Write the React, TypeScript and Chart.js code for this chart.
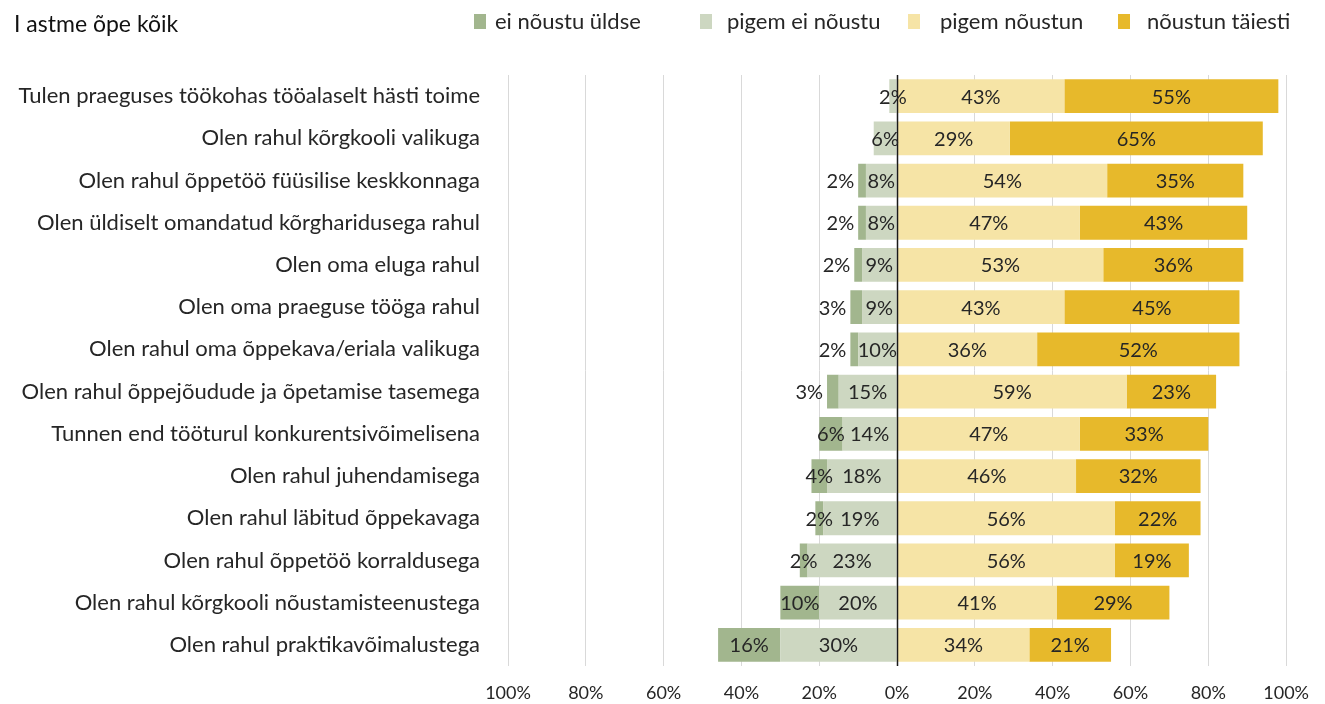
import React, { useEffect, useRef } from "react";
import { Chart, registerables } from "chart.js";

Chart.register(...registerables);

const title = "I astme õpe kõik";
const categories = [
  "Tulen praeguses töökohas tööalaselt hästi toime",
  "Olen rahul kõrgkooli valikuga",
  "Olen rahul õppetöö füüsilise keskkonnaga",
  "Olen üldiselt omandatud kõrgharidusega rahul",
  "Olen oma eluga rahul",
  "Olen oma praeguse tööga rahul",
  "Olen rahul oma õppekava/eriala valikuga",
  "Olen rahul õppejõudude ja õpetamise tasemega",
  "Tunnen end tööturul konkurentsivõimelisena",
  "Olen rahul juhendamisega",
  "Olen rahul läbitud õppekavaga",
  "Olen rahul õppetöö korraldusega",
  "Olen rahul kõrgkooli nõustamisteenustega",
  "Olen rahul praktikavõimalustega",
];
const seriesNames = ["ei nõustu üldse", "pigem ei nõustu", "pigem nõustun", "nõustun täiesti"];
const eiNoustuYldse = [0, 0, 2, 2, 2, 3, 2, 3, 6, 4, 2, 2, 10, 16];
const pigemEiNoustu = [2, 6, 8, 8, 9, 9, 10, 15, 14, 18, 19, 23, 20, 30];
const pigemNoustun = [43, 29, 54, 47, 53, 43, 36, 59, 47, 46, 56, 56, 41, 34];
const noustunTaiesti = [55, 65, 35, 43, 36, 45, 52, 23, 33, 32, 22, 19, 29, 21];
const xTicks = [-100, -80, -60, -40, -20, 0, 20, 40, 60, 80, 100];

const colors = ["#a2b68e", "#cdd7c1", "#f6e4a6", "#e7b92b"];
const FONT = "Lato, 'Open Sans', sans-serif";
const TEXT = "#262626";

const overlay = {
  id: "overlay",
  afterDatasetsDraw(chart: any) {
    const ctx = chart.ctx;
    const xs = chart.scales.x;
    const area = chart.chartArea;
    ctx.save();
    // zero line
    const x0 = Math.round(xs.getPixelForValue(0)) + 0.5;
    ctx.strokeStyle = "#1a1a1a";
    ctx.lineWidth = 1.5;
    ctx.beginPath();
    ctx.moveTo(x0, area.top);
    ctx.lineTo(x0, area.bottom);
    ctx.stroke();
    // labels
    ctx.font = `20px ${FONT}`;
    ctx.fillStyle = TEXT;
    ctx.textBaseline = "middle";
    const n = chart.data.labels.length;
    for (let i = 0; i < n; i++) {
      const metas = [0, 1, 2, 3].map((d) => chart.getDatasetMeta(d).data[i]);
      const vals = [0, 1, 2, 3].map((d) => Math.abs(chart.data.datasets[d].data[i]));
      const centers = metas.map((el: any) => (el.x + el.base) / 2);
      const lgText = vals[1] + "%";
      const lgW = ctx.measureText(lgText).width;
      const lgLeft = centers[1] - lgW / 2;
      for (let d = 0; d < 4; d++) {
        if (!vals[d]) continue;
        const el: any = metas[d];
        const txt = vals[d] + "%";
        const w = ctx.measureText(txt).width;
        let cx = centers[d];
        if (d === 0 && vals[1]) {
          const right = cx + w / 2;
          const segW = Math.abs(el.x - el.base);
          if (right > lgLeft - 6 && segW < w * 0.8) {
            const left = Math.min(el.x, el.base);
            cx = left - 4 - w / 2;
          }
        }
        ctx.textAlign = "center";
        ctx.fillText(txt, cx, el.y + 1);
      }
    }
    // title
    ctx.font = `23px ${FONT}`;
    ctx.textAlign = "left";
    ctx.fillStyle = "#111";
    ctx.fillText(title, 14, 25);
    // legend
    const boxStarts = [474, 700, 908, 1118];
    const textStarts = [495, 727, 940, 1147];
    ctx.font = `22px ${FONT}`;
    for (let d = 0; d < 4; d++) {
      ctx.fillStyle = colors[d];
      ctx.fillRect(boxStarts[d], 14, 12, 15);
      ctx.fillStyle = TEXT;
      ctx.fillText(seriesNames[d], textStarts[d], 22);
    }
    ctx.restore();
  },
};

export default function App() {
  const ref = useRef<HTMLCanvasElement>(null);
  useEffect(() => {
    document.body.style.margin = "0";
    const ds = (label: string, data: number[], color: string, order: number) => ({
      label,
      data,
      backgroundColor: color,
      borderWidth: 0,
      barPercentage: 0.8,
      categoryPercentage: 1,
      order,
    });
    const chart = new Chart(ref.current!, {
      type: "bar",
      data: {
        labels: categories,
        datasets: [
          ds(seriesNames[0], eiNoustuYldse.map((v) => -v), colors[0], 2),
          ds(seriesNames[1], pigemEiNoustu.map((v) => -v), colors[1], 1),
          ds(seriesNames[2], pigemNoustun, colors[2], 3),
          ds(seriesNames[3], noustunTaiesti, colors[3], 4),
        ],
      },
      options: {
        indexAxis: "y",
        responsive: false,
        animation: false,
        layout: { padding: { top: 75, right: 37, bottom: 0, left: 0 } },
        plugins: { legend: { display: false }, tooltip: { enabled: false }, title: { display: false } },
        scales: {
          x: {
            stacked: true,
            min: -100,
            max: 100,
            afterBuildTicks: (s: any) => {
              s.ticks = xTicks.map((v) => ({ value: v }));
            },
            afterFit: (s: any) => {
              s.height = 38;
            },
            ticks: {
              callback: (v: any) => Math.abs(Number(v)) + "%",
              font: { family: FONT, size: 18 },
              color: TEXT,
              padding: 16,
              maxRotation: 0,
            },
            grid: { color: "#d9d9d9", drawTicks: false },
            border: { display: false },
          },
          y: {
            stacked: true,
            ticks: { font: { family: FONT, size: 22 }, color: TEXT, padding: 20 },
            grid: { display: false },
            border: { display: false },
            afterFit: (s: any) => {
              s.width = 508;
            },
          },
        },
      },
      plugins: [overlay],
    });
    return () => chart.destroy();
  }, []);
  return (
    <div style={{ width: 1325, height: 704 }}>
      <canvas ref={ref} width={1325} height={704} />
    </div>
  );
}
